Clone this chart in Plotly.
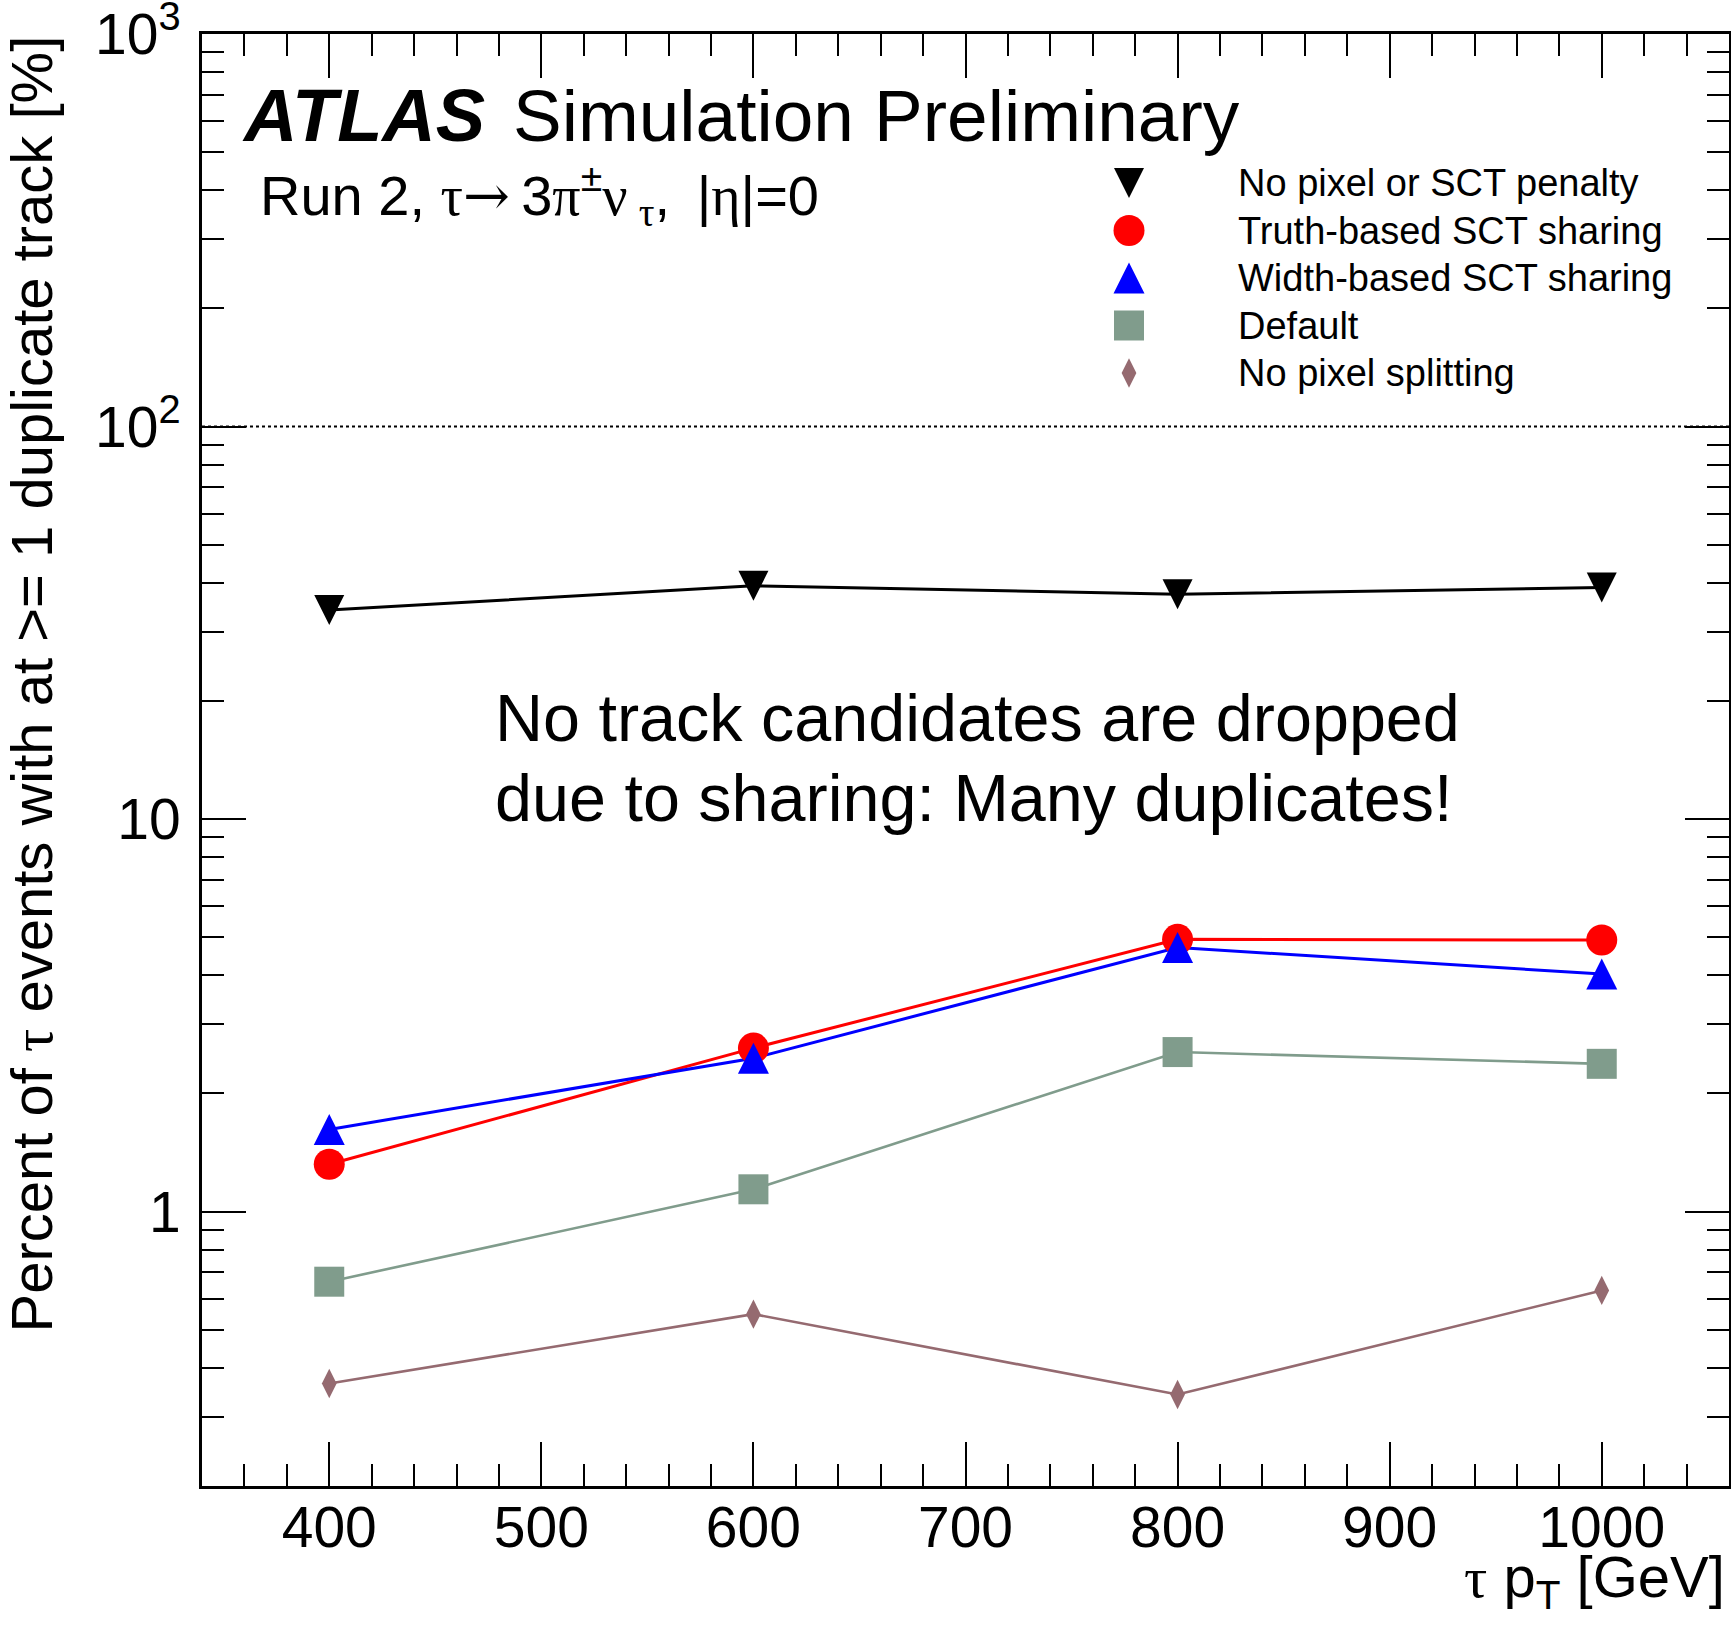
import plotly.graph_objects as go

# Tau transverse momentum bins [GeV]
pt = [400, 600, 800, 1000]

# Percent of tau events with at least one duplicate track, per ambiguity-solver setting
no_penalty = [34.1, 39.3, 37.4, 38.9]
truth_sct = [1.32, 2.61, 4.94, 4.92]
width_sct = [1.62, 2.46, 4.71, 4.03]
default = [0.663, 1.14, 2.55, 2.38]
no_pixel_split = [0.365, 0.548, 0.342, 0.630]

series_names = [
    "No pixel or SCT penalty",
    "Truth-based SCT sharing",
    "Width-based SCT sharing",
    "Default",
    "No pixel splitting",
]
series_values = [no_penalty, truth_sct, width_sct, default, no_pixel_split]
colors = ["#000000", "#ff0000", "#0000ff", "#809c8c", "#956a70"]
line_widths = [3, 3, 3, 2.6, 2.6]

# ROOT-like markers: centred triangles are built from arrow heads with a standoff
symbols = ["arrow-down", "circle", "arrow-down", "square", "diamond-tall"]
sizes = [30, 31, 31, 30, 21]
angles = [0, 0, 180, 0, 0]
standoffs = [15, 0, 15.5, 0, 0]

x_range = [340, 1060]
y_range = [0.2, 1000]
y_tickvals = [1, 10, 100, 1000]
y_ticktext = ["1", "10", "10<sup>2</sup>", "10<sup>3</sup>"]
reference_level = 100

FONT = "Liberation Sans, Arial, Helvetica, sans-serif"
SERIF = "Liberation Serif, Times New Roman, serif"
ARROW_FONT = "DejaVu Serif, DejaVu Sans, serif"

W, H = 1731, 1627
ML, MR, MT, MB = 202, 2, 34, 141
PW, PH = W - ML - MR, H - MT - MB


def px_x(p):
    return (p - ML) / PW


def px_y(p):
    return (H - MB - p) / PH


def greek(s):
    return f'<span style="font-family:{SERIF}">{s}</span>'


fig = go.Figure()

for vals, col, lw in zip(series_values, colors, line_widths):
    fig.add_trace(go.Scatter(
        x=pt, y=vals, mode="lines",
        line=dict(color=col, width=lw),
        showlegend=False, hoverinfo="skip",
    ))

for name, vals, col, sym, sz, ang, so in zip(series_names, series_values, colors,
                                              symbols, sizes, angles, standoffs):
    fig.add_trace(go.Scatter(
        x=pt, y=vals, mode="markers", name=name,
        marker=dict(color=col, symbol=sym, size=sz, angle=ang, standoff=so,
                    opacity=1, line=dict(width=0)),
        showlegend=False,
    ))

# Legend block drawn on an overlay axis spanning the plot area
leg_marker_x = px_x(1129)
leg_text_x = px_x(1236)
leg_top, leg_step = 183, 47.5
leg_y = [px_y(leg_top + i * leg_step) for i in range(len(series_names))]
fig.add_trace(go.Scatter(
    x=[leg_marker_x] * len(series_names), y=leg_y, mode="markers",
    xaxis="x2", yaxis="y2", showlegend=False, hoverinfo="skip",
    marker=dict(color=colors, symbol=symbols, size=sizes, angle=angles,
                standoff=standoffs, opacity=1, line=dict(width=0)),
))

annotations = []
for name, yy in zip(series_names, leg_y):
    annotations.append(dict(
        x=leg_text_x, y=yy, xref="paper", yref="paper", text=name,
        showarrow=False, xanchor="left", yanchor="middle",
        font=dict(family=FONT, size=38, color="black"),
    ))

THIN = "\u2009"

annotations += [
    dict(x=px_x(240), y=px_y(141 - 0.35 * 74), xref="paper", yref="paper",
         text="<b><i>ATLAS</i></b>", showarrow=False,
         xanchor="left", yanchor="middle", font=dict(family=FONT, size=74, color="black")),
    dict(x=px_x(511), y=px_y(141 - 0.35 * 73), xref="paper", yref="paper",
         text="Simulation Preliminary", showarrow=False,
         xanchor="left", yanchor="middle", font=dict(family=FONT, size=73, color="black")),
    dict(x=px_x(258), y=px_y(215 - 0.35 * 56), xref="paper", yref="paper",
         text="Run 2, " + greek("τ")
              + f'<span style="font-family:{ARROW_FONT}">→{THIN}</span>'
              + "3" + greek("π") + "<sup>±</sup>" + greek("ν") + THIN
              + "<sub>" + greek("τ") + "</sub>, " + THIN + "|" + greek("η") + "|=0",
         showarrow=False, xanchor="left", yanchor="middle",
         font=dict(family=FONT, size=56, color="black")),
    dict(x=px_x(493), y=px_y(741 - 0.35 * 66.5), xref="paper", yref="paper",
         text="No track candidates are dropped", showarrow=False,
         xanchor="left", yanchor="middle", font=dict(family=FONT, size=66.5, color="black")),
    dict(x=px_x(493), y=px_y(821 - 0.35 * 66.5), xref="paper", yref="paper",
         text="due to sharing: Many duplicates!", showarrow=False,
         xanchor="left", yanchor="middle", font=dict(family=FONT, size=66.5, color="black")),
    dict(x=px_x(31), y=1.0, xref="paper", yref="paper", textangle=-90,
         text="Percent of " + greek("τ") + " events with at >= 1 duplicate track [%]",
         showarrow=False, xanchor="center", yanchor="top",
         font=dict(family=FONT, size=58, color="black")),
    dict(x=px_x(1727), y=px_y(1601 - 0.35 * 57), xref="paper", yref="paper",
         text=greek("τ") + " p<sub>T</sub> [GeV]", showarrow=False,
         xanchor="right", yanchor="middle", font=dict(family=FONT, size=58, color="black")),
]

fig.add_shape(type="line", xref="paper", x0=0, x1=1, yref="y",
              y0=reference_level, y1=reference_level,
              line=dict(color="black", width=2, dash="dot"))

axis_common = dict(
    showline=True, linecolor="black", linewidth=3, mirror="allticks",
    ticks="inside", ticklen=44, tickwidth=2, tickcolor="black",
    showgrid=False, zeroline=False, automargin=False,
    tickfont=dict(family=FONT, size=57, color="black"),
)

fig.update_layout(
    width=W, height=H,
    margin=dict(l=ML, r=MR, t=MT, b=MB, autoexpand=False),
    paper_bgcolor="white", plot_bgcolor="white",
    showlegend=False,
    xaxis=dict(range=x_range, dtick=100, tick0=0,
               minor=dict(dtick=20, ticklen=22, tickwidth=2, tickcolor="black",
                          ticks="inside", showgrid=False),
               ticklabelstandoff=-10,
               **axis_common),
    yaxis=dict(type="log", range=[-0.69897, 3.0002],
               tickmode="array", tickvals=y_tickvals, ticktext=y_ticktext,
               minor=dict(dtick="D1", ticklen=22, tickwidth=2, tickcolor="black",
                          ticks="inside", showgrid=False),
               ticklabelstandoff=7, ticklabeloverflow="allow",
               **axis_common),
    xaxis2=dict(overlaying="x", range=[0, 1], visible=False, anchor="y2"),
    yaxis2=dict(overlaying="y", range=[0, 1], visible=False, anchor="x2"),
    annotations=annotations,
)

fig.write_html("out.html")
